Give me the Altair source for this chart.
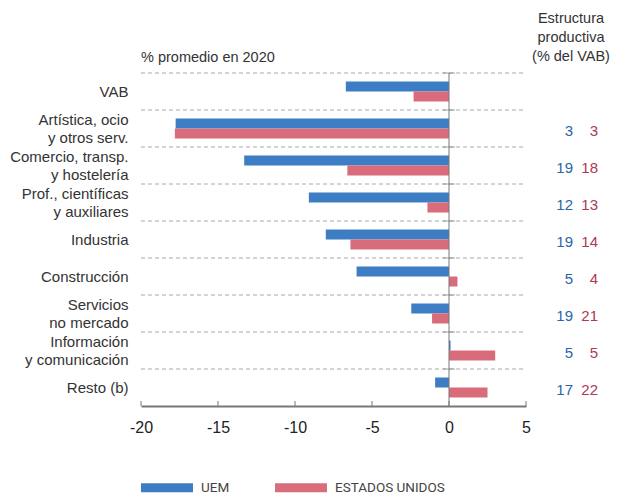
import altair as alt
import pandas as pd

categories = ["VAB", "Artística, ocio|y otros serv.", "Comercio, transp.|y hostelería",
              "Prof., científicas|y auxiliares", "Industria", "Construcción",
              "Servicios|no mercado", "Información|y comunicación", "Resto (b)"]
series = ["UEM", "ESTADOS UNIDOS"]
uem = [-6.7, -17.75, -13.3, -9.1, -8.0, -6.0, -2.45, 0.1, -0.9]
eeuu = [-2.3, -17.8, -6.6, -1.4, -6.4, 0.55, -1.1, 3.0, 2.5]
struct_uem = [None, 3, 19, 12, 19, 5, 19, 5, 17]
struct_us = [None, 3, 18, 13, 14, 4, 21, 5, 22]
x_ticks = [-20, -15, -10, -5, 0, 5]

BLUE = "#3d7dc3"
RED = "#d96c7b"
BLUE_T = "#2c64a8"
RED_T = "#ac3a52"
FONT = "Liberation Sans"

W, H = 385, 333

rows = []
for c, a, b in zip(categories, uem, eeuu):
    rows.append({"cat": c, "series": series[0], "value": a})
    rows.append({"cat": c, "series": series[1], "value": b})
df = pd.DataFrame(rows)

df_cat = pd.DataFrame({"cat": categories})
df_struct = pd.DataFrame([
    {"cat": c, "uem": u, "us": s}
    for c, u, s in zip(categories, struct_uem, struct_us) if u is not None
])
df_ticks = pd.DataFrame({"t": x_ticks})
df_one = pd.DataFrame({"a": [0]})

y_enc = alt.Y(
    "cat:N", sort=categories,
    scale=alt.Scale(paddingInner=0, paddingOuter=0),
    axis=alt.Axis(title=None, labelExpr="split(datum.label, '|')", domain=False,
                  ticks=False, labelPadding=13, labelFontSize=15, labelColor="#333",
                  labelFont=FONT, labelLineHeight=18,
                  labelOffset=alt.ExprRef("indexof(datum.value, '|') >= 0 ? -9 : 0")),
)
x_scale = alt.Scale(domain=[-20, 5], nice=False, zero=False)

grid = alt.Chart(df_cat).mark_rule(color="#a8a8a8", strokeDash=[4, 3], strokeWidth=1).encode(
    y=alt.Y("cat:N", sort=categories, bandPosition=0),
    x=alt.value(0), x2=alt.value(W),
)

bars = alt.Chart(df).mark_bar().encode(
    x=alt.X("value:Q", scale=x_scale,
            axis=alt.Axis(title=None, values=x_ticks, ticks=False, grid=False,
                          domainColor="#777", domainWidth=2, labelFontSize=16,
                          labelPadding=13, labelColor="#222", labelFont=FONT,
                          labelFlush=False, labelExpr="'' + datum.value")),
    y=y_enc,
    yOffset=alt.YOffset("series:N", sort=series,
                        scale=alt.Scale(paddingOuter=0.85, paddingInner=0)),
    color=alt.Color("series:N", sort=series,
                    scale=alt.Scale(domain=series, range=[BLUE, RED]),
                    legend=alt.Legend(title=None, orient="none", legendX=0, legendY=388.5,
                                      direction="horizontal",
                                      symbolType="M-1,-0.17L1,-0.17L1,0.17L-1,0.17Z",
                                      symbolSize=2704, symbolStrokeWidth=0, symbolOpacity=1,
                                      labelFontSize=13.5, labelFont="Roboto",
                                      labelColor="#444", labelOffset=8, columnPadding=45,
                                      padding=0)),
)

zero = alt.Chart(df_one).mark_rule(color="#777", strokeWidth=1).encode(x=alt.datum(0))

cross = alt.Chart(df_cat).mark_tick(orient="horizontal", size=12, thickness=1,
                                    color="#777").encode(
    x=alt.datum(0),
    y=alt.Y("cat:N", sort=categories, bandPosition=0),
)

ticks = alt.Chart(df_ticks).mark_rule(color="#777", strokeWidth=1).encode(
    x=alt.X("t:Q", scale=x_scale), y=alt.value(H), y2=alt.value(H - 5)
)

num_uem = alt.Chart(df_struct).mark_text(align="right", baseline="middle", dy=2,
                                         fontSize=15, font=FONT, color=BLUE_T).encode(
    y=alt.Y("cat:N", sort=categories), x=alt.value(432), text="uem:Q"
)
num_us = alt.Chart(df_struct).mark_text(align="right", baseline="middle", dy=2,
                                        fontSize=15, font=FONT, color=RED_T).encode(
    y=alt.Y("cat:N", sort=categories), x=alt.value(457), text="us:Q"
)

head_left = alt.Chart(df_one).mark_text(align="left", baseline="middle", fontSize=14.5,
                                        font=FONT, color="#333").encode(
    x=alt.value(0), y=alt.value(-15.5), text=alt.value("% promedio en 2020")
)
head_right = alt.Chart(df_one).mark_text(align="center", baseline="middle", fontSize=14.5,
                                         font=FONT, color="#333", lineBreak="\n",
                                         lineHeight=19).encode(
    x=alt.value(430), y=alt.value(-54),
    text=alt.value("Estructura\nproductiva\n(% del VAB)")
)

chart = alt.layer(grid, bars, zero, cross, ticks, num_uem, num_us, head_left,
                  head_right).properties(
    width=W, height=H,
    autosize=alt.AutoSizeParams(type="none"),
    padding={"left": 133, "top": 65, "right": 85, "bottom": 90},
).configure_view(stroke=None)

chart.save("out.html", embed_options={"renderer": "svg", "actions": False})
